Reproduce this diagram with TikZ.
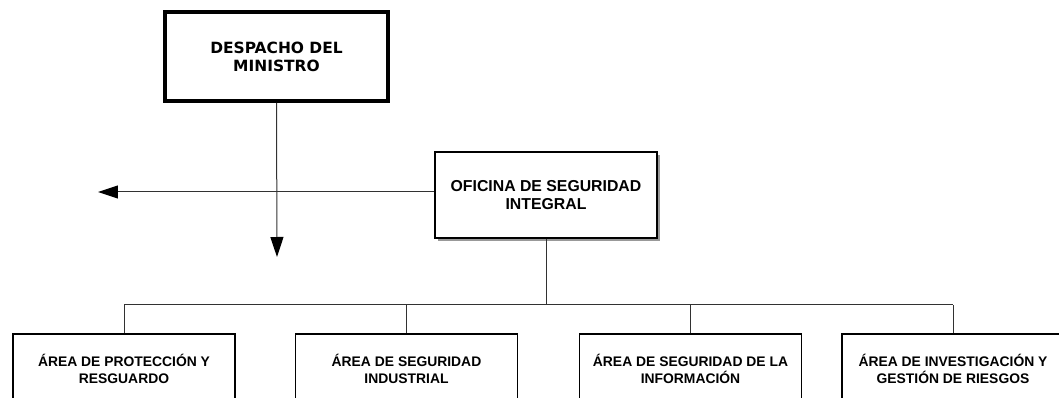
\documentclass[tikz,border=0pt]{standalone}
\usepackage{fontspec}
\setmainfont{Liberation Sans}
\newfontfamily\dejavu{DejaVu Sans}
\usepackage{xcolor}
\usepackage{tikz}
\usetikzlibrary{positioning, arrows.meta, shadows}
\definecolor{lineacolor}{RGB}{50,50,50}

\begin{document}
\begin{tikzpicture}[x=0.02cm, y=-0.02cm,
    ministro/.style={rectangle, draw=black, line width=0.08cm, fill=white, minimum width=4.46cm, minimum height=1.78cm, align=center, font=\dejavu\bfseries\fontsize{8.8}{10.2}\selectfont},
    oficina/.style={rectangle, draw=black, line width=0.04cm, fill=white, minimum width=4.44cm, minimum height=1.72cm, align=center, font=\bfseries\fontsize{9}{10.2}\selectfont, drop shadow={shadow xshift=0.06cm, shadow yshift=-0.06cm, fill=black!40, opacity=1}},
    area/.style={rectangle, draw=black, line width=0.03cm, fill=white, minimum width=4.45cm, minimum height=1.4cm, align=center, font=\bfseries\fontsize{7.9}{9.6}\selectfont},
    linea/.style={draw=lineacolor, line width=0.02cm},
    flecha/.style={linea, -{Triangle[length=0.4cm, width=0.26cm, color=black, fill=black]}}]
    \useasboundingbox (0,0) rectangle (1059,398);

    % Despacho y oficina
    \node[ministro] (despacho) at (276.5,56.5) {DESPACHO DEL\\MINISTRO};
    \node[oficina] (oficina) at (546,195) {OFICINA DE SEGURIDAD\\INTEGRAL};

    % Flechas
    \coordinate (izq) at (98,192);
    \coordinate (abajo) at (277,257);
    \draw[flecha] (despacho.south) -- (abajo);
    \draw[flecha] (oficina.west |- izq) -- (izq);

    % Areas
    \node[area] (a1) at (124,369) {ÁREA DE PROTECCIÓN Y\\RESGUARDO};
    \node[area] (a2) at (406.5,369) {ÁREA DE SEGURIDAD\\INDUSTRIAL};
    \node[area] (a3) at (690.5,369) {ÁREA DE SEGURIDAD DE LA\\INFORMACIÓN};
    \node[area] (a4) at (953,369) {ÁREA DE INVESTIGACIÓN Y\\GESTIÓN DE RIESGOS};

    % Conexiones
    \coordinate (bus) at (0,305);
    \draw[linea] (oficina.south) -- (oficina.south |- bus);
    \draw[linea] (a1.north |- bus) -- (a4.north |- bus);
    \foreach \n in {a1,a2,a3,a4}
        \draw[linea] (\n.north) -- (\n.north |- bus);
\end{tikzpicture}
\end{document}
